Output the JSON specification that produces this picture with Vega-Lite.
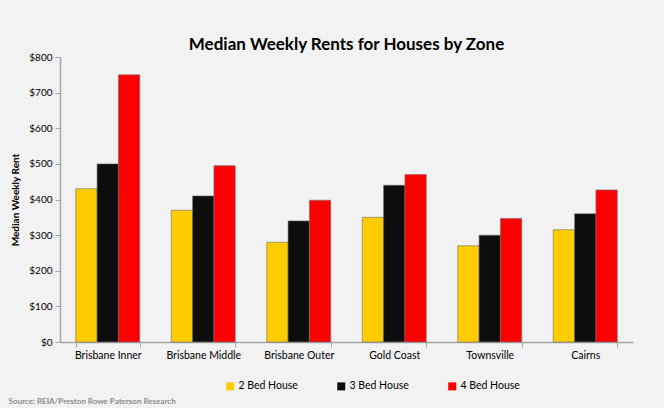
{
  "$schema": "https://vega.github.io/schema/vega-lite/v6.json",
  "width": 573,
  "height": 285,
  "autosize": {"type": "none"},
  "padding": {"left": 60, "top": 57, "right": 31, "bottom": 66},
  "background": "#f2f2f2",
  "title": {
    "text": "Median Weekly Rents for Houses by Zone",
    "font": "Lato",
    "fontSize": 17,
    "fontWeight": "bold",
    "color": "#000000",
    "offset": -2
  },
  "data": {
    "values": [
      {"zone": "Brisbane Inner", "type": "2 Bed House", "rent": 430},
      {"zone": "Brisbane Inner", "type": "3 Bed House", "rent": 500},
      {"zone": "Brisbane Inner", "type": "4 Bed House", "rent": 750},
      {"zone": "Brisbane Middle", "type": "2 Bed House", "rent": 370},
      {"zone": "Brisbane Middle", "type": "3 Bed House", "rent": 410},
      {"zone": "Brisbane Middle", "type": "4 Bed House", "rent": 495},
      {"zone": "Brisbane Outer", "type": "2 Bed House", "rent": 280},
      {"zone": "Brisbane Outer", "type": "3 Bed House", "rent": 340},
      {"zone": "Brisbane Outer", "type": "4 Bed House", "rent": 398},
      {"zone": "Gold Coast", "type": "2 Bed House", "rent": 350},
      {"zone": "Gold Coast", "type": "3 Bed House", "rent": 440},
      {"zone": "Gold Coast", "type": "4 Bed House", "rent": 470},
      {"zone": "Townsville", "type": "2 Bed House", "rent": 270},
      {"zone": "Townsville", "type": "3 Bed House", "rent": 300},
      {"zone": "Townsville", "type": "4 Bed House", "rent": 347},
      {"zone": "Cairns", "type": "2 Bed House", "rent": 315},
      {"zone": "Cairns", "type": "3 Bed House", "rent": 360},
      {"zone": "Cairns", "type": "4 Bed House", "rent": 427}
    ]
  },
  "mark": {"type": "bar", "stroke": "#6e6e6e", "strokeWidth": 0.6},
  "encoding": {
    "x": {
      "field": "zone",
      "type": "nominal",
      "sort": null,
      "scale": {"paddingInner": 0.33, "paddingOuter": 0.165},
      "axis": {
        "title": "Source: REIA/Preston Rowe Paterson Research",
        "titleFont": "Lato",
        "titleFontSize": 8,
        "titleFontWeight": "bold",
        "titleColor": "#8c8c8c",
        "titleAnchor": "start",
        "titleAlign": "left",
        "titleBaseline": "middle",
        "titleX": -52,
        "titleY": 59,
        "labelAngle": 0,
        "labelFont": "Lato",
        "labelFontSize": 10.5,
        "labelColor": "#000000",
        "labelPadding": 3,
        "tickBand": "extent",
        "tickSize": 5,
        "tickColor": "#a6a6a6",
        "domainColor": "#a6a6a6",
        "domainWidth": 1.5
      }
    },
    "xOffset": {"field": "type", "type": "nominal", "scale": {"paddingInner": 0, "paddingOuter": 0}},
    "y": {
      "field": "rent",
      "type": "quantitative",
      "scale": {"domain": [0, 800]},
      "axis": {
        "title": "Median Weekly Rent",
        "titleFont": "Lato",
        "titleFontSize": 10,
        "titleFontWeight": "bold",
        "titleColor": "#000000",
        "titlePadding": 8,
        "values": [0, 100, 200, 300, 400, 500, 600, 700, 800],
        "format": "$.0f",
        "grid": false,
        "labelFont": "Lato",
        "labelFontSize": 10,
        "labelColor": "#000000",
        "labelPadding": 3,
        "tickSize": 5,
        "tickColor": "#a6a6a6",
        "domainColor": "#a6a6a6",
        "domainWidth": 1.5
      }
    },
    "color": {
      "field": "type",
      "type": "nominal",
      "scale": {
        "domain": ["2 Bed House", "3 Bed House", "4 Bed House"],
        "range": ["#ffcc00", "#0d0d0d", "#ff0000"]
      },
      "legend": {
        "title": null,
        "orient": "none",
        "direction": "horizontal",
        "legendX": 165,
        "legendY": 324,
        "symbolType": "square",
        "symbolSize": 64,
        "symbolStrokeWidth": 0,
        "labelFont": "Lato",
        "labelFontSize": 10.5,
        "labelColor": "#000000",
        "labelOffset": 3,
        "columnPadding": 38
      }
    }
  },
  "config": {
    "view": {"stroke": null}
  }
}
